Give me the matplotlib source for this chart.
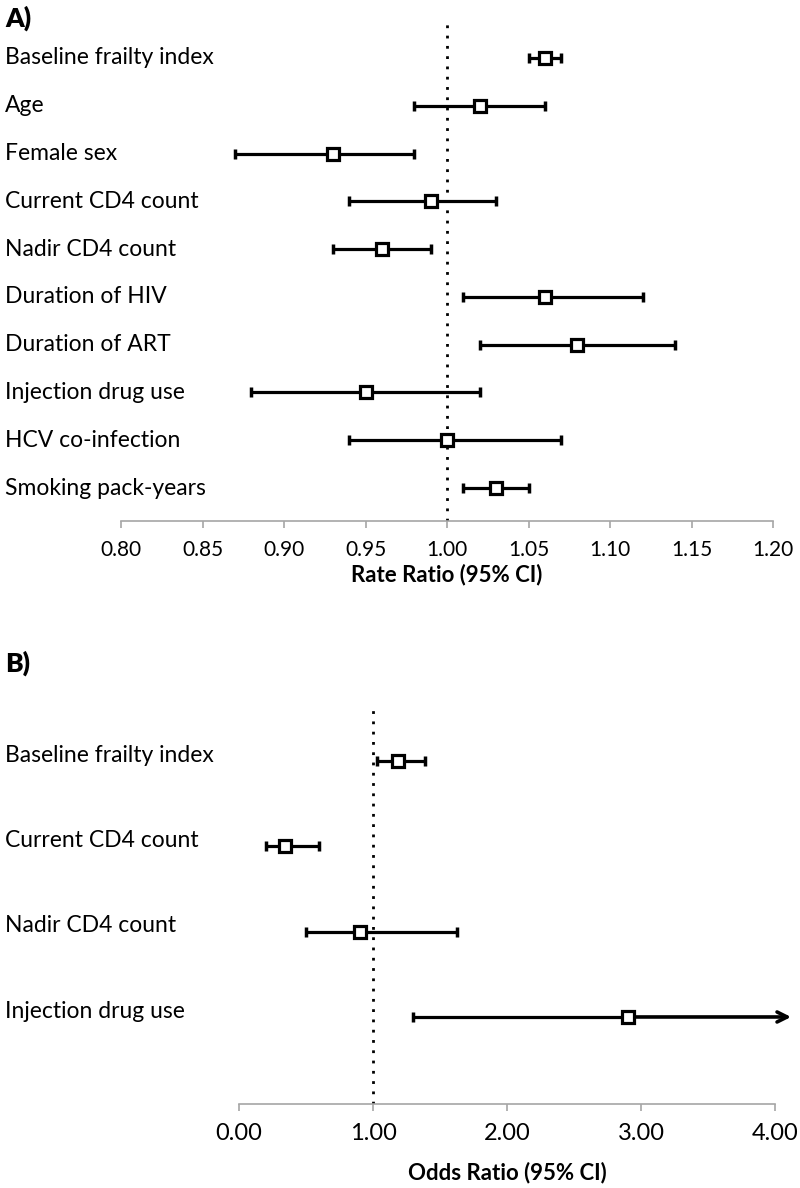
import numpy as np
import matplotlib
matplotlib.use("Agg")
import matplotlib.pyplot as plt
import matplotlib.transforms as mtransforms

plt.rcParams['font.family'] = ['Lato', 'DejaVu Sans']

# Panel A: rate ratios
a_labels = ['Baseline frailty index', 'Age', 'Female sex', 'Current CD4 count',
            'Nadir CD4 count', 'Duration of HIV', 'Duration of ART',
            'Injection drug use', 'HCV co-infection', 'Smoking pack-years']
a_est = [1.06, 1.02, 0.93, 0.99, 0.96, 1.06, 1.08, 0.95, 1.00, 1.03]
a_lo = [1.05, 0.98, 0.87, 0.94, 0.93, 1.01, 1.02, 0.88, 0.94, 1.01]
a_hi = [1.07, 1.06, 0.98, 1.03, 0.99, 1.12, 1.14, 1.02, 1.07, 1.05]
a_ticks = [0.80, 0.85, 0.90, 0.95, 1.00, 1.05, 1.10, 1.15, 1.20]

# Panel B: odds ratios (nan = upper limit off the scale, drawn as arrow)
b_labels = ['Baseline frailty index', 'Current CD4 count', 'Nadir CD4 count',
            'Injection drug use']
b_est = [1.19, 0.34, 0.90, 2.90]
b_lo = [1.03, 0.20, 0.50, 1.30]
b_hi = [1.39, 0.60, 1.63, np.nan]
b_ticks = [0.0, 1.0, 2.0, 3.0, 4.0]

W, H = 800, 1188
fig = plt.figure(figsize=(W / 100, H / 100), dpi=100)

axis_grey = '#a6a6a6'


def style_axis(ax, lo, hi, ticks, fs):
    for s in ['top', 'right', 'left']:
        ax.spines[s].set_visible(False)
    ax.spines['bottom'].set_color(axis_grey)
    ax.spines['bottom'].set_linewidth(1.2)
    ax.spines['bottom'].set_bounds(lo, hi)
    ax.set_yticks([])
    ax.set_xticks(ticks)
    ax.tick_params(axis='x', colors=axis_grey, length=5, width=1.2,
                   labelcolor='black', labelsize=fs, pad=9)


def draw_ci(ax, est, lo, hi):
    y = np.arange(len(est))
    est = np.array(est)
    lo = np.array(lo)
    hi = np.array(hi)
    ok = ~np.isnan(hi)
    ax.errorbar(est[ok], y[ok], xerr=[est[ok] - lo[ok], hi[ok] - est[ok]],
                fmt='none', ecolor='black', elinewidth=2.3, capsize=3.5,
                capthick=2.5, zorder=3)
    for i in np.where(~ok)[0]:
        ax.errorbar([est[i]], [y[i]], xerr=[[est[i] - lo[i]], [0]],
                    fmt='none', ecolor='black', elinewidth=2.3, capsize=3.5,
                    capthick=2.5, zorder=3)
        ax.annotate('', xy=(ax.get_xlim()[1] - 0.03, y[i]), xytext=(est[i], y[i]),
                    arrowprops=dict(arrowstyle='->', lw=2.6, color='black',
                                    mutation_scale=18, shrinkA=0, shrinkB=0),
                    zorder=3)
    ax.plot(est, y, 's', ms=9, mfc='white', mec='black', mew=2.3, zorder=4)


# ---- Panel A ----
axA = fig.add_axes([121 / W, 1 - 521 / H, 652 / W, (521 - 19) / H])
axA.set_xlim(0.80, 1.20)
axA.set_ylim(9 + 33 / 47.8, -39 / 47.8)
axA.axvline(1.0, color='black', lw=2, linestyle=(0, (1, 2.7)), zorder=1)
draw_ci(axA, a_est, a_lo, a_hi)
style_axis(axA, 0.80, 1.20, a_ticks, 15)
axA.set_xticklabels([f'{t:.2f}' for t in a_ticks])
axA.set_xlabel('Rate Ratio (95% CI)', fontsize=16, fontweight='bold', labelpad=2)
trA = mtransforms.blended_transform_factory(fig.transFigure, axA.transData)
for i, lab in enumerate(a_labels):
    axA.text(5 / W, i, lab, transform=trA, ha='left', va='center', fontsize=16.5)
fig.text(5 / W, 1 - 18 / H, 'A)', ha='left', va='center', fontsize=19,
         fontweight='heavy')

# ---- Panel B ----
bx_max = 4.15
axB = fig.add_axes([239 / W, 1 - 1104 / H, bx_max * 134 / W, (1104 - 707) / H])
axB.set_xlim(0, bx_max)
axB.set_ylim(3 + 87 / 85.3, -54 / 85.3)
axB.axvline(1.0, color='black', lw=2, linestyle=(0, (1, 2.7)), zorder=1)
draw_ci(axB, b_est, b_lo, b_hi)
style_axis(axB, 0, 4, b_ticks, 17)
axB.set_xticklabels([f'{t:.2f}' for t in b_ticks])
axB.set_xlabel('Odds Ratio (95% CI)', fontsize=16, fontweight='bold')
axB.xaxis.set_label_coords(2.0 / bx_max, -0.145)
trB = mtransforms.blended_transform_factory(fig.transFigure, axB.transData)
for i, lab in enumerate(b_labels):
    axB.text(5 / W, i - 0.07, lab, transform=trB, ha='left', va='center',
             fontsize=16.5)
fig.text(5 / W, 1 - 663 / H, 'B)', ha='left', va='center', fontsize=19,
         fontweight='heavy')

fig.savefig('out.png', dpi=100)
